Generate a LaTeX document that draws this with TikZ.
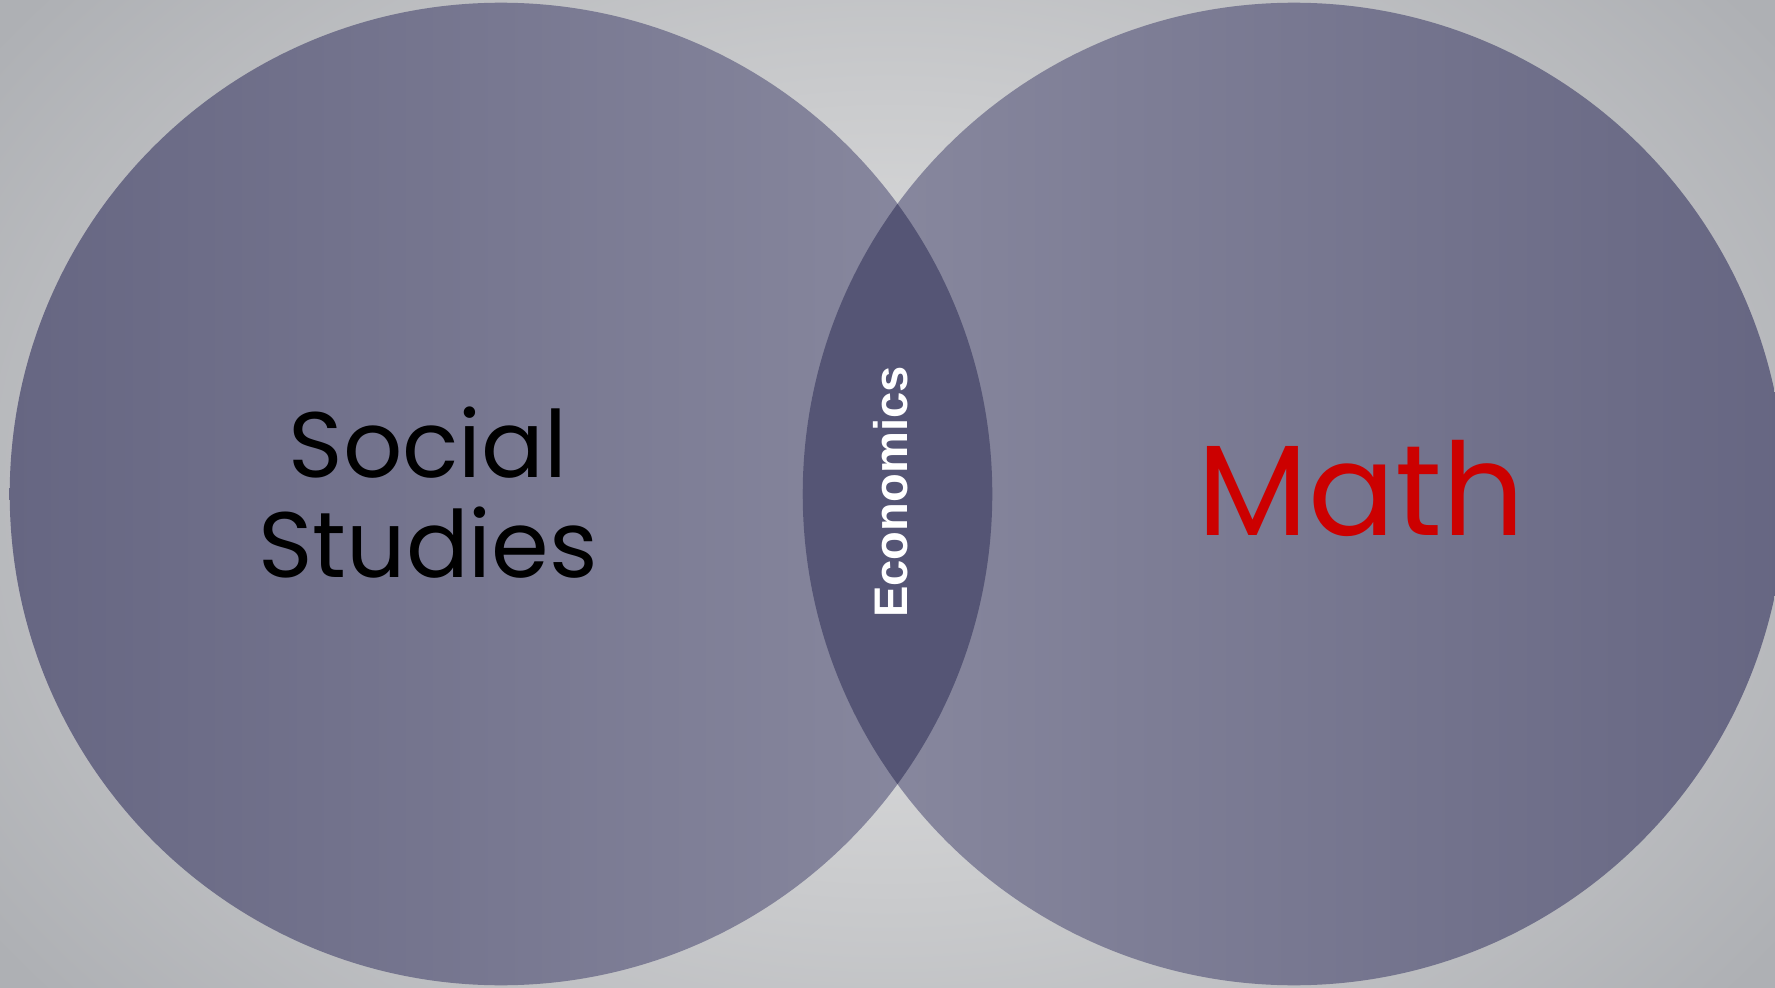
\documentclass[tikz,border=0pt]{standalone}
\usepackage{fontspec}
\usepackage{tikz}
\newfontfamily\gothic{Poppins}
\newfontfamily\econfont{Liberation Sans}[UprightFont={* Bold}]

\definecolor{bgmid}{HTML}{E6E6E6}
\definecolor{bgedge}{HTML}{AEB0B4}
\definecolor{setdark}{HTML}{666682}
\definecolor{setlight}{HTML}{8A8AA0}
\definecolor{lens}{HTML}{555575}
\definecolor{mathred}{HTML}{CC0000}

\tikzset{
  setlabel/.style={font=\gothic\fontsize{26.4}{28}\selectfont, text=black, inner sep=0pt, anchor=base},
}

\begin{document}
\begin{tikzpicture}[x=0.01cm, y=-0.01cm]

\useasboundingbox (0,0) rectangle (1775,988);
\clip (0,0) rectangle (1775,988);

% grey backdrop, lighter in the middle
\shade[inner color=bgmid, outer color=bgedge] (-200,-300) rectangle (1975,1288);

% the two sets
\shade[left color=setdark, right color=setlight] (501,494) circle (4.91cm);
\shade[left color=setlight, right color=setdark] (1294,494) circle (4.91cm);

% overlap
\begin{scope}
  \clip (501,494) circle (4.91cm);
  \fill[lens] (1294,494) circle (4.91cm);
\end{scope}

\node[setlabel] (social) at (428,478) {Social};
\node[setlabel] (studies) at (428,577) {Studies};
\node[font=\gothic\fontsize{36.6}{38}\selectfont, text=mathred, inner sep=0pt, anchor=base] (math) at (1361,535) {Math};
\node[font=\econfont\fontsize{13.4}{15}\selectfont, text=white, rotate=90, inner sep=0pt] (econ) at (891,492) {Economics};

\end{tikzpicture}
\end{document}
